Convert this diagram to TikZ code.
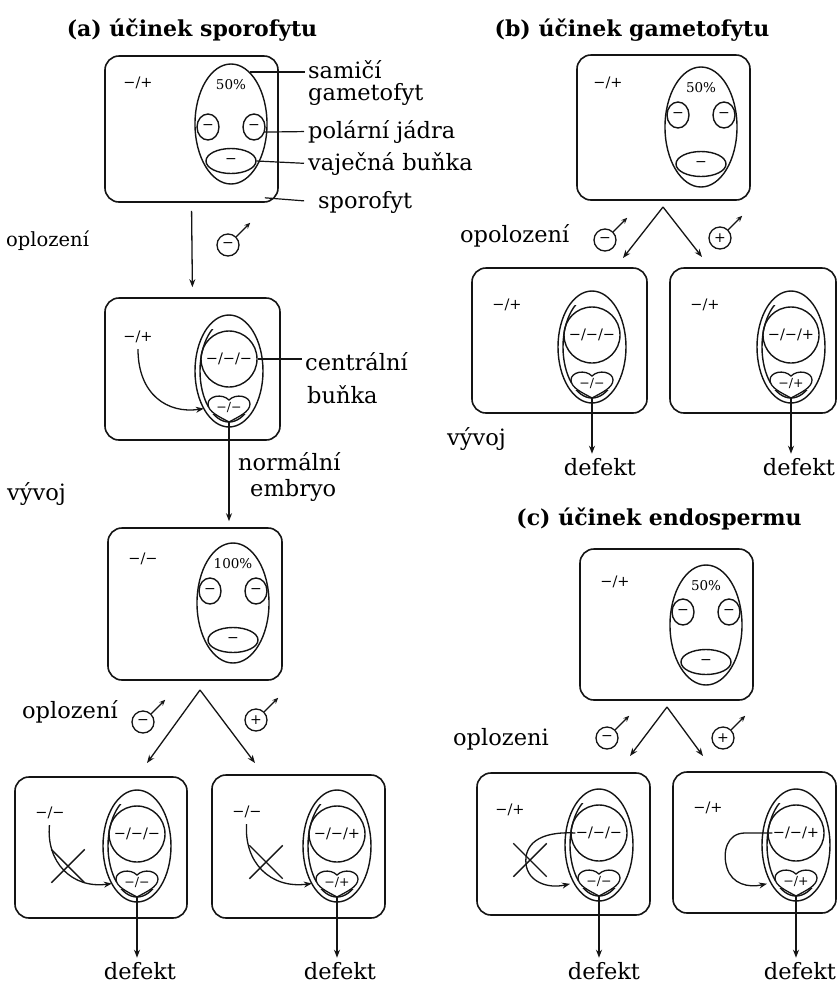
\documentclass[tikz,border=0pt]{standalone}
\usepackage{fontspec}
\setmainfont{DejaVu Serif}
\usetikzlibrary{shapes.geometric,shapes.misc,arrows.meta,fit}

\newcommand\fs[1]{\fontsize{#1}{#1}\selectfont}

\tikzset{
  ink/.style={draw=black!92, line width=1.4pt},
  boxst/.style={ink, line width=1.6pt, rounded corners=14pt, inner sep=0pt},
  sacst/.style={ink, ellipse, inner sep=0pt, minimum width=72pt, minimum height=120pt},
  fsacst/.style={ink, ellipse, inner sep=0pt, minimum width=68pt, minimum height=112pt},
  polar/.style={ink, ellipse, inner sep=0pt, minimum width=22pt, minimum height=26pt, font=\fs{14}},
  egg/.style={ink, ellipse, inner sep=0pt, minimum width=50pt, minimum height=25pt, font=\fs{14}},
  ccell/.style={ink, circle, inner sep=0pt, minimum size=56pt, font=\fs{14.5}},
  htxt/.style={inner sep=0pt, minimum width=42pt, minimum height=28pt, font=\fs{12.5}},
  male/.style={ink, line width=1.3pt, circle, inner sep=0pt, minimum size=22pt, font=\fs{14}},
  geno/.style={inner sep=0pt, font=\fs{14.5}},
  pct/.style={inner sep=0pt, font=\fs{13.5}},
  lbl/.style={inner sep=0pt, anchor=base west, font=\fs{22.5}},
  lblc/.style={inner sep=0pt, anchor=base, font=\fs{22.5}},
  ttl/.style={inner sep=0pt, anchor=base, font=\bfseries\fs{22}},
  arr/.style={ink, line width=1.3pt, -{Stealth[length=8pt,width=6pt]}},
  marr/.style={ink, line width=1.3pt, -{Stealth[length=6pt,width=5pt]}},
  leader/.style={draw=black!92, line width=1.2pt},
  xmark/.style={ink, cross out, minimum width=32pt, minimum height=32pt, inner sep=0pt},
}

% heart-shaped zygote with its genotype
\newcommand\HeartAt[4]{%
  \node[htxt] (#1) at (#2,#3) {#4};
  \draw[ink, line width=1.3pt] (#2,#3+14) .. controls (#2-9,#3+9) and (#2-21,#3+4) .. (#2-21,#3-4)
     .. controls (#2-21,#3-12) and (#2-7,#3-15) .. (#2,#3-8)
     .. controls (#2+7,#3-15) and (#2+21,#3-12) .. (#2+21,#3-4)
     .. controls (#2+21,#3+4) and (#2+9,#3+9) .. (#2,#3+14) -- cycle;
}

% embryo sac before fertilisation: name, x, y, percentage, y of polar nuclei
\newcommand\SacU[5]{%
  \node[sacst] (#1) at (#2,#3) {};
  \node[pct] (#1p) at (#2,#3-39) {#4};
  \node[polar] (#1l) at (#2-23,#5) {−};
  \node[polar] (#1r) at (#2+23,#5) {−};
  \node[egg] (#1g) at (#2,#3+37) {−};
}

% embryo sac after fertilisation: name, x, y, central cell, zygote
\newcommand\SacF[5]{%
  \node[fsacst] (#1) at (#2,#3) {};
  \begin{scope}
    \clip (#2-40,#3-42) rectangle (#2-12,#3+36) (#2-40,#3+43) rectangle (#2+40,#3+60);
    \draw[ink] (#2,#3) ellipse [x radius=29pt, y radius=51pt];
  \end{scope}
  \node[ccell] (#1c) at (#2,#3-12) {#4};
  \HeartAt{#1h}{#2}{#3+37}{#5}
}

\begin{document}
\begin{tikzpicture}[x=1pt,y=-1pt]
\useasboundingbox[fill=white] (0,0) rectangle (838,986);

% ===================== (a) sporophyte effect =====================
\node[ttl] (ta) at (192,36) {(a) účinek sporofytu};

\node[boxst, fit={(105,56) (278,202)}] (A1) {};
\node[geno] (A1m) at (138,83) {−/+};
\SacU{A1s}{231}{124}{50\%}{127}
\node[lbl] (Lsam) at (308,78) {samičí};
\node[lbl] (Lgam) at (308,100) {gametofyt};
\node[lbl] (Lpol) at (308,138) {polární jádra};
\node[lbl] (Lvaj) at (308,170) {vaječná buňka};
\node[lbl] (Lspo) at (318,208) {sporofyt};
\draw[leader, shorten >=3pt] (A1s.70) -- (A1s.70 -| Lsam.west);
\draw[leader, shorten >=4pt] (A1sr.-25) -- (Lpol.west);
\draw[leader, shorten >=4pt] (A1sg.east) -- (Lvaj.west);
\draw[leader, shorten >=14pt] ([xshift=-14pt,yshift=5pt]A1.south east) -- (Lspo.west);

\node[lbl, font=\fs{19.5}] (Lopl1) at (6,246) {oplození};
\node[male] (Am) at (228,245) {−};
\draw[marr] (Am.45) -- ++(14,-14);

\node[boxst, fit={(105,298) (280,440)}] (A2) {};
\draw[arr, shorten <=8pt, shorten >=10pt] (A1.south) -- (A2.north);
\node[geno] (A2m) at (138,337) {−/+};
\SacF{A2s}{229}{371}{−/−/−}{−/−}
\draw[arr, shorten <=6pt, shorten >=4pt] (A2m.south) .. controls (138,395) and (168,414) .. (A2sh.west);
\node[lbl] (Lcen) at (305,370) {centrální};
\node[lbl] (Lbun) at (307,403) {buňka};
\draw[leader, shorten >=3pt] (A2sc.east) -- (A2sc.east -| Lcen.west);

\node[lbl] (Lnor) at (238,470) {normální};
\node[lbl] (Lemb) at (250,496) {embryo};
\node[lbl] (Lvyv1) at (7,500) {vývoj};

\node[boxst, fit={(108,528) (282,680)}] (A3) {};
\draw[arr, shorten >=6pt] (A2sh.south) -- (A2sh.south |- A3.north);
\node[geno] (A3m) at (143,559) {−/−};
\SacU{A3s}{233}{603}{100\%}{591}

\coordinate (A3v) at (200,690);
\coordinate (A4i) at (147,763);
\coordinate (A5i) at (255,763);
\draw[arr] (A3v) -- (A4i);
\draw[arr] (A3v) -- (A5i);
\node[lbl] (Lopl2) at (22,718) {oplození};
\node[male] (A3mm) at (143,722) {−};
\draw[marr] (A3mm.45) -- ++(14,-14);
\node[male] (A3mp) at (256,720) {+};
\draw[marr] (A3mp.45) -- ++(14,-14);

\node[boxst, fit={(15,777) (187,918)}] (A4) {};
\node[geno] (A4m) at (50,813) {−/−};
\SacF{A4s}{137}{846}{−/−/−}{−/−}
\node[xmark] (A4x) at (68,866) {};
\draw[arr, shorten <=6pt, shorten >=4pt] (A4m.south) .. controls (46,862) and (72,889) .. (A4sh.west);
\node[lblc] (A4d) at (140,979) {defekt};
\draw[arr, shorten >=4pt] (A4sh.south) -- (A4sh.south |- A4d.north);

\node[boxst, fit={(212,775) (385,918)}] (A5) {};
\node[geno] (A5m) at (247,812) {−/−};
\SacF{A5s}{337}{846}{−/−/+}{−/+}
\node[xmark] (A5x) at (266,862) {};
\draw[arr, shorten <=6pt, shorten >=4pt] (A5m.south) .. controls (244,862) and (270,889) .. (A5sh.west);
\node[lblc] (A5d) at (340,979) {defekt};
\draw[arr, shorten >=4pt] (A5sh.south) -- (A5sh.south |- A5d.north);

% ===================== (b) gametophyte effect =====================
\node[ttl] (tb) at (632,36) {(b) účinek gametofytu};

\node[boxst, fit={(577,55) (750,200)}] (B1) {};
\node[geno] (B1m) at (608,83) {−/+};
\SacU{B1s}{701}{127}{50\%}{115}

\coordinate (B1v) at (663,207);
\coordinate (B2i) at (623,258);
\coordinate (B3i) at (702,257);
\draw[arr] (B1v) -- (B2i);
\draw[arr] (B1v) -- (B3i);
\node[lbl] (Lopl3) at (460,242) {opolození};
\node[male] (Bmm) at (605,240) {−};
\draw[marr] (Bmm.45) -- ++(14,-14);
\node[male] (Bmp) at (720,238) {+};
\draw[marr] (Bmp.45) -- ++(14,-14);

\node[boxst, fit={(472,268) (647,413)}] (B2) {};
\node[geno] (B2m) at (507,305) {−/+};
\SacF{B2s}{592}{347}{−/−/−}{−/−}
\node[lblc] (B2d) at (600,475) {defekt};
\draw[arr, shorten >=4pt] (B2sh.south) -- (B2sh.south |- B2d.north);
\node[lbl] (Lvyv2) at (447,445) {vývoj};

\node[boxst, fit={(670,268) (836,413)}] (B3) {};
\node[geno] (B3m) at (705,305) {−/+};
\SacF{B3s}{791}{347}{−/−/+}{−/+}
\node[lblc] (B3d) at (799,475) {defekt};
\draw[arr, shorten >=4pt] (B3sh.south) -- (B3sh.south |- B3d.north);

% ===================== (c) endosperm effect =====================
\node[ttl] (tc) at (659,525) {(c) účinek endospermu};

\node[boxst, fit={(580,549) (753,700)}] (C1) {};
\node[geno] (C1m) at (615,582) {−/+};
\SacU{C1s}{706}{625}{50\%}{612}

\coordinate (C1v) at (667,707);
\coordinate (C2i) at (630,756);
\coordinate (C3i) at (703,756);
\draw[arr] (C1v) -- (C2i);
\draw[arr] (C1v) -- (C3i);
\node[lbl] (Lopl4) at (453,745) {oplozeni};
\node[male] (Cmm) at (607,738) {−};
\draw[marr] (Cmm.45) -- ++(14,-14);
\node[male] (Cmp) at (723,738) {+};
\draw[marr] (Cmp.45) -- ++(14,-14);

\node[boxst, fit={(477,773) (650,915)}] (C2) {};
\node[geno] (C2m) at (510,810) {−/+};
\SacF{C2s}{599}{845}{−/−/−}{−/−}
\node[xmark] (C2x) at (530,860) {};
\draw[arr, shorten >=8pt] ([xshift=5pt]C2sc.west) .. controls (538,831) and (524,845) .. (526,864)
   .. controls (528,882) and (548,889) .. (C2sh.west);
\node[lblc] (C2d) at (604,979) {defekt};
\draw[arr, shorten >=4pt] (C2sh.south) -- (C2sh.south |- C2d.north);

\node[boxst, fit={(673,772) (836,913)}] (C3) {};
\node[geno] (C3m) at (708,808) {−/+};
\SacF{C3s}{796}{845}{−/−/+}{−/+}
\draw[arr, shorten >=8pt] ([xshift=5pt]C3sc.west) -- (745,833) .. controls (727,833) and (722,852) .. (727,868)
   .. controls (732,884) and (748,888) .. (C3sh.west);
\node[lblc] (C3d) at (800,979) {defekt};
\draw[arr, shorten >=4pt] (C3sh.south) -- (C3sh.south |- C3d.north);

\end{tikzpicture}
\end{document}
